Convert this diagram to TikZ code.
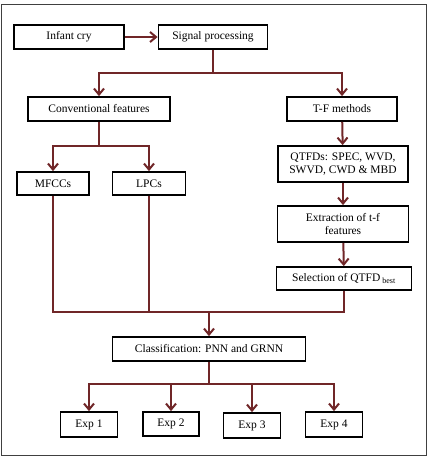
\documentclass[tikz,border=0pt]{standalone}
\usepackage{fontspec}
\setmainfont{Liberation Serif}
\usetikzlibrary{arrows.meta}
\definecolor{maroon}{RGB}{112,38,40}
\begin{document}
\begin{tikzpicture}[x=1pt,y=-1pt,
  box/.style={draw=black,line width=1.8pt,inner sep=0pt,align=center,fill=white,
    font=\fontsize{11.5}{13.5}\selectfont},
  conn/.style={draw=maroon,line width=2pt},
  arr/.style={conn,-{Straight Barb[length=6pt,width=10pt,line width=2pt]}}]
\useasboundingbox (0,0) rectangle (430,458);
\draw[line width=1pt,draw=black!75] (1,4) rectangle (426,455);
\node[box,minimum width=110pt,minimum height=24pt] (cry) at (69,37) {Infant cry};
\node[box,minimum width=109pt,minimum height=24pt] (sig) at (213,37) {Signal processing};
\node[box,minimum width=142pt,minimum height=24pt] (conv) at (99,109) {Conventional features};
\node[box,minimum width=110pt,minimum height=24pt] (tf) at (342,109) {T-F methods};
\node[box,minimum width=72pt,minimum height=23pt] (mfcc) at (53,183.5) {MFCCs};
\node[box,minimum width=73pt,minimum height=23pt] (lpc) at (149,183.5) {LPCs};
\node[box,minimum width=130pt,minimum height=36pt] (qtfd) at (343,164) {QTFDs: SPEC, WVD,\\SWVD, CWD \& MBD};
\node[box,minimum width=131pt,minimum height=36pt] (ext) at (343,224) {Extraction of t-f\\features};
\node[box,minimum width=135pt,minimum height=23pt] (sel) at (344,278.5) {Selection of QTFD\,\textsubscript{best}};
\node[box,minimum width=193pt,minimum height=24pt] (cls) at (209,349) {Classification: PNN and GRNN};
\node[box,minimum width=57pt,minimum height=25pt] (e1) at (89,424.5) {Exp 1};
\node[box,minimum width=56pt,minimum height=24pt] (e2) at (171,424) {Exp 2};
\node[box,minimum width=57pt,minimum height=25pt] (e3) at (252,425.5) {Exp 3};
\node[box,minimum width=57pt,minimum height=25pt] (e4) at (334,424.5) {Exp 4};
\coordinate (j1) at (213,73);
\coordinate (j2) at (99,146);
\coordinate (j3) at (209,312);
\coordinate (j4) at (209,384);
\draw[arr] (cry) -- (sig);
\draw[conn] (sig.south) -- (j1);
\draw[arr] (j1) -| (conv.north);
\draw[arr] (j1) -| (tf.north);
\draw[conn] (conv.south) -- (j2);
\draw[arr] (j2) -| (mfcc.north);
\draw[arr] (j2) -| (lpc.north);
\draw[arr] (tf) -- (qtfd);
\draw[arr] (qtfd) -- (ext);
\draw[arr] (ext) -- (sel);
\draw[conn] (mfcc.south) -- (mfcc.south |- j3) -- (sel.south |- j3) -- (sel.south);
\draw[conn] (lpc.south) -- (lpc.south |- j3);
\draw[arr] (j3) -- (cls.north);
\draw[conn] (cls.south) -- (j4);
\draw[arr] (j4) -| (e1.north);
\draw[arr] (j4) -| (e2.north);
\draw[arr] (j4) -| (e3.north);
\draw[arr] (j4) -| (e4.north);
\end{tikzpicture}
\end{document}
